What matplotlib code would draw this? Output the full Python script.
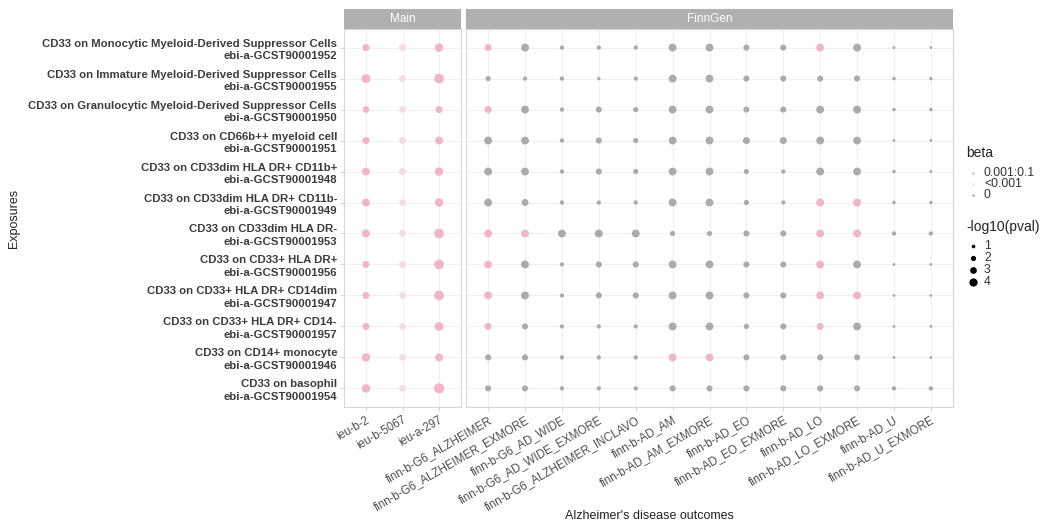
import numpy as np
import matplotlib.pyplot as plt
from matplotlib.lines import Line2D

plt.rcParams['font.family'] = ['Liberation Sans', 'DejaVu Sans']

exposures = [
    "CD33 on Monocytic Myeloid-Derived Suppressor Cells\nebi-a-GCST90001952",
    "CD33 on Immature Myeloid-Derived Suppressor Cells\nebi-a-GCST90001955",
    "CD33 on Granulocytic Myeloid-Derived Suppressor Cells\nebi-a-GCST90001950",
    "CD33 on CD66b++ myeloid cell\nebi-a-GCST90001951",
    "CD33 on CD33dim HLA DR+ CD11b+\nebi-a-GCST90001948",
    "CD33 on CD33dim HLA DR+ CD11b-\nebi-a-GCST90001949",
    "CD33 on CD33dim HLA DR-\nebi-a-GCST90001953",
    "CD33 on CD33+ HLA DR+\nebi-a-GCST90001956",
    "CD33 on CD33+ HLA DR+ CD14dim\nebi-a-GCST90001947",
    "CD33 on CD33+ HLA DR+ CD14-\nebi-a-GCST90001957",
    "CD33 on CD14+ monocyte\nebi-a-GCST90001946",
    "CD33 on basophil\nebi-a-GCST90001954",
]

main_outcomes = ["ieu-b-2", "ieu-b-5067", "ieu-a-297"]
finn_outcomes = [
    "finn-b-G6_ALZHEIMER", "finn-b-G6_ALZHEIMER_EXMORE", "finn-b-G6_AD_WIDE",
    "finn-b-G6_AD_WIDE_EXMORE", "finn-b-G6_ALZHEIMER_INCLAVO", "finn-b-AD_AM",
    "finn-b-AD_AM_EXMORE", "finn-b-AD_EO", "finn-b-AD_EO_EXMORE", "finn-b-AD_LO",
    "finn-b-AD_LO_EXMORE", "finn-b-AD_U", "finn-b-AD_U_EXMORE",
]

# -log10(pval), rows = exposures
logp_main = [
    [2.5, 2.5, 3.3],
    [3.5, 2.3, 4.0],
    [2.3, 2.3, 2.5],
    [2.5, 2.5, 3.0],
    [3.0, 2.5, 3.3],
    [3.0, 2.3, 3.3],
    [3.0, 2.5, 4.0],
    [2.5, 2.5, 4.0],
    [2.5, 2.3, 4.0],
    [2.5, 2.3, 3.5],
    [3.3, 2.3, 3.0],
    [3.3, 2.3, 4.3],
]
logp_finn = [
    [2.5, 3, 1, 1, 1, 3, 3, 2, 2, 3, 3, 0.2, 0.2],
    [1.5, 1, 1, 0.6, 1, 3, 3, 2, 2, 2, 2, 0.6, 0.6],
    [2.5, 3, 1, 2, 1.5, 3, 3, 2, 2, 3, 3, 0.6, 0.6],
    [3, 3, 1, 2, 1.5, 3, 3, 2.5, 2.5, 3, 3, 0.2, 0.2],
    [3, 3, 1, 2, 1.5, 3, 3, 1.5, 1, 3, 3, 0.6, 0.2],
    [3, 2.5, 1, 1, 1, 3, 3, 1.5, 1, 3, 3, 0.6, 0.6],
    [3, 3, 3, 3, 3, 1.5, 1.5, 2, 2, 3, 3, 1, 1],
    [3, 3, 1, 2, 2, 3, 3, 2, 2, 3, 3, 0.2, 0.2],
    [3, 3, 1, 2, 2, 3, 3, 2, 2, 3, 3, 0.2, 0.2],
    [2.5, 2, 1, 1, 1, 3, 3, 1.5, 2, 2.5, 3, 0.2, 0.2],
    [2, 2, 1, 1, 1, 3, 3, 2, 2, 2, 2, 0.2, 0.2],
    [2, 2, 1, 1, 1, 2, 2, 2, 2, 2, 2, 1, 1],
]

# beta class: P = 0.001:0.1, L = <0.001, Z = 0
beta_main = [["P", "L", "P"]] * 12
beta_finn = [
    "PZZZZZZZZPZZZ",
    "ZZZZZZZZZZZZZ",
    "PZZZZZZZZZZZZ",
    "ZZZZZZZZZZZZZ",
    "ZZZZZZZZZZZZZ",
    "ZZZZZZZZZPPZZ",
    "PPZZZZZZZPPZZ",
    "PZZZZZZZZPZZZ",
    "PZZZZZZZZPPZZ",
    "PZZZZZZZZPZZZ",
    "ZZZZZPPZZZZZZ",
    "ZZZZZZZZZZZZZ",
]

beta_order = ["P", "L", "Z"]
beta_labels = {"P": "0.001:0.1", "L": "<0.001", "Z": "0"}
beta_colors = {"P": "#F3B3C9", "L": "#F4DCE5", "Z": "#ABABAB"}
size_levels = [1, 2, 3, 4]


def diam_pt(v):
    # dot diameter in points for a -log10(pval) value
    return (2.5 + 1.8 * v) / 1.389


def draw_panel(ax, outcomes, logp, beta, title):
    n = len(outcomes)
    xs, ys, ss, cs = [], [], [], []
    for i in range(len(exposures)):
        for j in range(n):
            xs.append(j)
            ys.append(i)
            ss.append(diam_pt(logp[i][j]) ** 2)
            cs.append(beta_colors[beta[i][j]])
    ax.scatter(xs, ys, s=ss, c=cs, linewidths=0, zorder=3)
    ax.set_xlim(-0.6, n - 0.4)
    ax.set_ylim(len(exposures) - 0.4, -0.6)
    ax.set_xticks(range(n))
    ax.set_xticklabels(outcomes, rotation=30, ha='right', va='top',
                       rotation_mode='anchor', fontsize=8.3, color='#4d4d4d')
    ax.set_yticks(range(len(exposures)))
    ax.grid(True, color='#EEEEEE', linewidth=0.6, zorder=0)
    ax.set_axisbelow(True)
    for sp in ax.spines.values():
        sp.set_color('#D6D6D6')
        sp.set_linewidth(0.8)
    ax.tick_params(length=3, color='#D0D0D0', width=0.6, pad=2)
    # facet strip
    ax.add_patch(plt.Rectangle((0, 1.0), 1, 0.052, transform=ax.transAxes,
                               fc='#B0B0B0', ec='none', clip_on=False, zorder=1))
    ax.text(0.5, 1.026, title, transform=ax.transAxes, ha='center', va='center',
            fontsize=8.5, color='white', zorder=2)


fig = plt.figure(figsize=(10.4, 5.23), dpi=100)
ax_main = fig.add_axes([344 / 1040, 116 / 523, 117 / 1040, 378 / 523])
ax_finn = fig.add_axes([466 / 1040, 116 / 523, 487 / 1040, 378 / 523])

draw_panel(ax_main, main_outcomes, logp_main, beta_main, "Main")
draw_panel(ax_finn, finn_outcomes, logp_finn, beta_finn, "FinnGen")

ax_main.set_yticklabels(exposures, fontsize=8.2, fontweight='bold',
                        color='#3c3c3c', ha='right', linespacing=1.3)
ax_finn.set_yticklabels([])
ax_finn.tick_params(axis='y', length=0)

fig.text(649 / 1040, 1 - 516 / 523, "Alzheimer's disease outcomes",
         ha='center', va='center', fontsize=9, color='#222222')
fig.text(14 / 1040, 1 - 218 / 523, "Exposures", rotation=90,
         ha='center', va='center', fontsize=9, color='#222222')


# legends, placed in pixel coordinates
def fx(px):
    return px / 1040


def fy(py):
    return 1 - py / 523


fig.text(fx(966), fy(153), "beta", ha='left', va='center', fontsize=10,
         color='#222222')
for k, py in zip(beta_order, [173, 184, 195]):
    fig.add_artist(Line2D([fx(973)], [fy(py)], marker='o', ls='',
                          markersize=diam_pt(0.1), markerfacecolor=beta_colors[k],
                          markeredgewidth=0, transform=fig.transFigure))
    fig.text(fx(984), fy(py), beta_labels[k], ha='left', va='center',
             fontsize=8.8, color='#333333')

fig.text(fx(966), fy(227), "-log10(pval)", ha='left', va='center', fontsize=10,
         color='#222222')
for v, py in zip(size_levels, [246, 258, 270, 282]):
    fig.add_artist(Line2D([fx(973)], [fy(py)], marker='o', ls='',
                          markersize=diam_pt(v) * 0.85, markerfacecolor='black',
                          markeredgewidth=0, transform=fig.transFigure))
    fig.text(fx(984), fy(py), str(v), ha='left', va='center',
             fontsize=8.8, color='#333333')

fig.savefig("out.png", dpi=100)
